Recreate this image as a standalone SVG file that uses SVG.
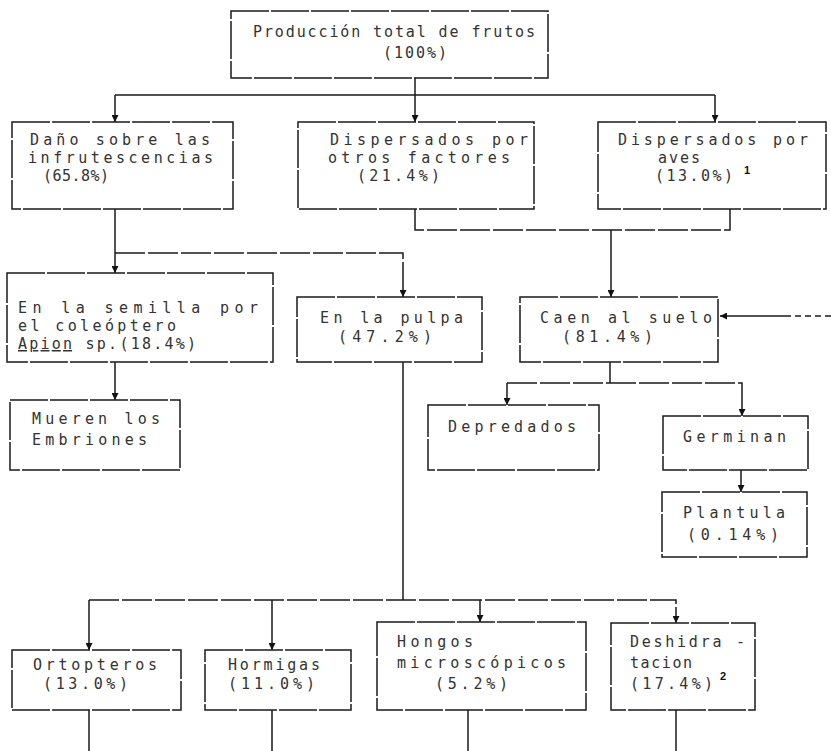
<svg xmlns="http://www.w3.org/2000/svg" width="831" height="751" viewBox="0 0 831 751">
<defs>
<marker id="ah" viewBox="0 0 8 8" refX="8" refY="4" markerWidth="7" markerHeight="7" markerUnits="userSpaceOnUse" orient="auto"><path d="M0,0 L8,4 L0,8 z" fill="#111"/></marker>
<style>
.bx{fill:none;stroke:#1a1a1a;stroke-width:1.5;stroke-dasharray:38 2}
.t{font-family:"DejaVu Sans Mono","Liberation Mono",monospace;font-size:15px;fill:#333}
.sup{font-family:"Liberation Sans",Arial,sans-serif;font-size:11px;font-weight:bold;fill:#111}
.cn path{fill:none;stroke:#1a1a1a;stroke-width:1.5}
.ar{marker-end:url(#ah)}
.dl{stroke-dasharray:30 3}
</style>
</defs>
<rect width="831" height="751" fill="#fff"/>

<g class="cn" id="connectors">
<path d="M415 78 V95"/>
<path d="M115 95 H715"/>
<path class="ar" d="M115 95 V122"/>
<path class="ar" d="M415 95 V122"/>
<path class="ar" d="M715 95 V122"/>
<path class="ar" d="M115 209 V273"/>
<path class="ar dl" d="M115 253 H403 V297"/>
<path class="dl" d="M415 209 V230 H730 V209"/>
<path class="ar" d="M611 230 V297"/>
<path d="M831 316 H790" stroke-dasharray="6 4"/>
<path class="ar" d="M790 316 H720"/>
<path class="ar" d="M115 362 V400"/>
<path d="M610 362 V383"/>
<path class="ar dl" d="M507 383 V405"/>
<path class="ar dl" d="M507 383 H742 V416"/>
<path class="ar" d="M741 470 V492"/>
<path d="M403 362 V600"/>
<path class="ar" d="M89 600 V650"/>
<path class="ar dl" d="M89 600 H676 V623"/>
<path class="ar" d="M272 600 V650"/>
<path class="ar" d="M480 600 V622"/>
<path d="M89 710 V751 M272 710 V751 M468 710 V751 M676 710 V751"/>
</g>

<g id="n-produccion">
<rect class="bx" x="231" y="11" width="317" height="67"/>
<text class="t" x="253" y="37" textLength="282" lengthAdjust="spacing">Producción total de frutos</text>
<text class="t" x="383" y="58" textLength="64" lengthAdjust="spacing">(100%)</text>
</g>

<g id="n-dano">
<rect class="bx" x="12" y="122" width="221" height="87"/>
<text class="t" x="30" y="145" textLength="180" lengthAdjust="spacing">Daño sobre las</text>
<text class="t" x="28" y="163" textLength="185" lengthAdjust="spacing">infrutescencias</text>
<text class="t" x="43" y="181" textLength="66" lengthAdjust="spacing">(65.8%)</text>
</g>

<g id="n-otros">
<rect class="bx" x="298" y="122" width="236" height="87"/>
<text class="t" x="330" y="145" textLength="198" lengthAdjust="spacing">Dispersados por</text>
<text class="t" x="328" y="163" textLength="182" lengthAdjust="spacing">otros factores</text>
<text class="t" x="357" y="181" textLength="83" lengthAdjust="spacing">(21.4%)</text>
</g>

<g id="n-aves">
<rect class="bx" x="598" y="122" width="228" height="87"/>
<text class="t" x="618" y="145" textLength="190" lengthAdjust="spacing">Dispersados por</text>
<text class="t" x="658" y="163" textLength="42" lengthAdjust="spacing">aves</text>
<text class="t" x="655" y="181" textLength="78" lengthAdjust="spacing">(13.0%)</text>
<text class="sup" x="744" y="174">1</text>
</g>

<g id="n-semilla">
<rect class="bx" x="7" y="273" width="266" height="89"/>
<text class="t" x="18" y="313" textLength="240" lengthAdjust="spacing">En la semilla por</text>
<text class="t" x="18" y="331" textLength="158" lengthAdjust="spacing">el coleóptero</text>
<text class="t" x="18" y="349" textLength="178" lengthAdjust="spacing"><tspan text-decoration="underline">Apion</tspan> sp.(18.4%)</text>
</g>

<g id="n-pulpa">
<rect class="bx" x="297" y="297" width="185" height="65"/>
<text class="t" x="320" y="323" textLength="143" lengthAdjust="spacing">En la pulpa</text>
<text class="t" x="338" y="342" textLength="94" lengthAdjust="spacing">(47.2%)</text>
</g>

<g id="n-caen">
<rect class="bx" x="520" y="297" width="198" height="65"/>
<text class="t" x="540" y="323" textLength="172" lengthAdjust="spacing">Caen al suelo</text>
<text class="t" x="562" y="342" textLength="91" lengthAdjust="spacing">(81.4%)</text>
</g>

<g id="n-mueren">
<rect class="bx" x="10" y="400" width="170" height="70"/>
<text class="t" x="32" y="424" textLength="128" lengthAdjust="spacing">Mueren los</text>
<text class="t" x="32" y="445" textLength="115" lengthAdjust="spacing">Embriones</text>
</g>

<g id="n-depredados">
<rect class="bx" x="428" y="405" width="171" height="65"/>
<text class="t" x="448" y="432" textLength="128" lengthAdjust="spacing">Depredados</text>
</g>

<g id="n-germinan">
<rect class="bx" x="663" y="416" width="145" height="54"/>
<text class="t" x="683" y="442" textLength="103" lengthAdjust="spacing">Germinan</text>
</g>

<g id="n-plantula">
<rect class="bx" x="662" y="492" width="145" height="65"/>
<text class="t" x="683" y="518" textLength="102" lengthAdjust="spacing">Plantula</text>
<text class="t" x="687" y="540" textLength="92" lengthAdjust="spacing">(0.14%)</text>
</g>

<g id="n-ortopteros">
<rect class="bx" x="12" y="650" width="169" height="60"/>
<text class="t" x="33" y="670" textLength="124" lengthAdjust="spacing">Ortopteros</text>
<text class="t" x="43" y="689" textLength="85" lengthAdjust="spacing">(13.0%)</text>
</g>

<g id="n-hormigas">
<rect class="bx" x="205" y="650" width="146" height="60"/>
<text class="t" x="228" y="670" textLength="92" lengthAdjust="spacing">Hormigas</text>
<text class="t" x="228" y="689" textLength="87" lengthAdjust="spacing">(11.0%)</text>
</g>

<g id="n-hongos">
<rect class="bx" x="377" y="622" width="209" height="88"/>
<text class="t" x="397" y="647" textLength="76" lengthAdjust="spacing">Hongos</text>
<text class="t" x="397" y="668" textLength="169" lengthAdjust="spacing">microscópicos</text>
<text class="t" x="435" y="689" textLength="73" lengthAdjust="spacing">(5.2%)</text>
</g>

<g id="n-deshidratacion">
<rect class="bx" x="611" y="623" width="144" height="87"/>
<text class="t" x="630" y="647" textLength="115" lengthAdjust="spacing">Deshidra -</text>
<text class="t" x="630" y="668" textLength="62" lengthAdjust="spacing">tacion</text>
<text class="t" x="630" y="689" textLength="83" lengthAdjust="spacing">(17.4%)</text>
<text class="sup" x="720" y="680">2</text>
</g>
</svg>
